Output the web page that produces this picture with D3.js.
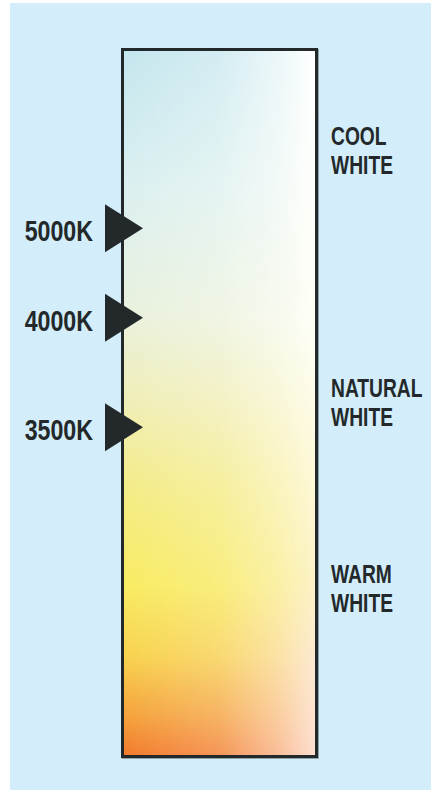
<!DOCTYPE html>
<html>
<head>
<meta charset="utf-8">
<script src="https://cdn.jsdelivr.net/npm/d3@7"></script>
<style>
  body { margin: 0; background: #fff; }
  text { font-family: "Liberation Sans", Arial, sans-serif; font-weight: bold; fill: #23292b; }
</style>
</head>
<body>
<svg id="chart" width="431" height="790"></svg>
<script>
// temperature markers on the left (position = fraction down the bar)
const markerLabels = ["5000K", "4000K", "3500K"];
const markerPos = [0.254, 0.380, 0.534];

// zone names on the right
const zoneLines = [["COOL", "WHITE"], ["NATURAL", "WHITE"], ["WARM", "WHITE"]];
const zonePos = [0.1415, 0.4965, 0.758];

// colour ramp, left edge and right edge of the bar
const leftStops = [[0, "#c4e6ee"], [0.2, "#dcf0f0"], [0.38, "#eaf1dc"], [0.5, "#f0eeb6"],
  [0.62, "#f4ec88"], [0.76, "#f8ec62"], [0.86, "#f8d24e"], [0.94, "#f5a43c"], [1, "#f27a2c"]];
const rightStops = [[0, "#ffffff"], [0.4, "#fefef6"], [0.6, "#fdf8da"], [0.75, "#fcf2c8"],
  [0.88, "#fce8d4"], [1, "#fde0d2"]];

let svg = d3.select("#chart");
const bar = {x0: 121, x1: 318, y0: 48, y1: 758, stroke: 3};
let y = d3.scaleLinear().domain([0, 1]).range([bar.y0, bar.y1]);

// background
svg.append("rect").attr("x", 10).attr("y", 3).attr("width", 421).attr("height", 787)
  .attr("fill", "#d3eefa");

let defs = svg.append("defs");
function vGrad(id, stops) {
  let g = defs.append("linearGradient").attr("id", id)
    .attr("x1", 0).attr("y1", 0).attr("x2", 0).attr("y2", 1);
  g.selectAll("stop").data(stops).enter().append("stop")
    .attr("offset", d => d[0]).attr("stop-color", d => d[1]);
}
vGrad("leftGrad", leftStops);
vGrad("rightGrad", rightStops);

let mg = defs.append("linearGradient").attr("id", "hMask")
  .attr("x1", 0).attr("y1", 0).attr("x2", 1).attr("y2", 0);
mg.selectAll("stop").data([[0, 0], [0.5, 0.27], [0.8, 0.66], [1, 1]]).enter().append("stop")
  .attr("offset", d => d[0]).attr("stop-color", "#fff").attr("stop-opacity", d => d[1]);
defs.append("mask").attr("id", "fadeMask").attr("maskContentUnits", "objectBoundingBox")
  .append("rect").attr("width", 1).attr("height", 1).attr("fill", "url(#hMask)");

let bx = bar.x0 + bar.stroke / 2, by = bar.y0 + bar.stroke / 2;
let bw = bar.x1 - bar.x0 - bar.stroke, bh = bar.y1 - bar.y0 - bar.stroke;

// soft shadow
svg.append("rect").attr("x", bx + 1).attr("y", by + 1).attr("width", bw).attr("height", bh)
  .attr("fill", "none").attr("stroke", "#8fa3aa").attr("stroke-width", bar.stroke);
svg.append("rect").attr("x", bx).attr("y", by).attr("width", bw).attr("height", bh)
  .attr("fill", "url(#leftGrad)");
svg.append("rect").attr("x", bx).attr("y", by).attr("width", bw).attr("height", bh)
  .attr("fill", "url(#rightGrad)").attr("mask", "url(#fadeMask)");
svg.append("rect").attr("x", bx).attr("y", by).attr("width", bw).attr("height", bh)
  .attr("fill", "none").attr("stroke", "#23292b").attr("stroke-width", bar.stroke);

// markers
let markers = svg.selectAll(".marker").data(markerLabels).enter().append("g")
  .attr("class", "marker")
  .attr("transform", (d, i) => `translate(0,${y(markerPos[i])})`);
markers.append("path")
  .attr("d", "M105,-24 L143,0 L105,24 Z")
  .attr("fill", "#23292b");
markers.append("text")
  .attr("transform", "translate(93,13) scale(0.8,1)")
  .attr("text-anchor", "end")
  .style("font-size", "29px")
  .text(d => d);

// zone labels (two lines each)
let zones = svg.selectAll(".zone").data(zoneLines).enter().append("g")
  .attr("class", "zone")
  .attr("transform", (d, i) => `translate(331,${y(zonePos[i])})`);
zones.selectAll("text").data(d => d).enter().append("text")
  .attr("transform", (d, j) => `translate(0,${-3.5 + j * 29}) scale(0.74,1)`)
  .style("font-size", "26px")
  .text(d => d);
</script>
</body>
</html>
